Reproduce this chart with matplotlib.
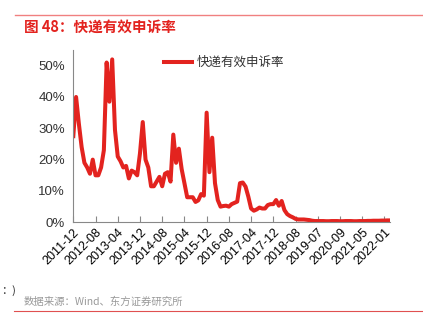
import numpy as np
import matplotlib.pyplot as plt

plt.rcParams['font.family'] = ['Noto Sans CJK SC', 'DejaVu Sans']

# monthly effective complaint rate (%), categorical months
rate = [27.5, 40, 31.5, 24, 19, 17.5, 15.5, 20, 15, 15,
        17.5, 23, 51, 38.5, 52, 29.5, 21, 19.5, 17.5, 18,
        14, 16.5, 16, 15, 22, 32, 20, 17.5, 11.5, 11.5,
        13, 14.5, 11.5, 15.5, 16, 13, 28, 19, 23.5, 17,
        12.5, 8, 8, 8, 6.5, 7, 9, 8.5, 35, 16,
        27, 12.5, 7.1, 5, 5.2, 5.3, 5, 5.8, 6.2, 6.6,
        12.5, 12.7, 11.4, 8.2, 4.4, 3.7, 4.1, 4.7, 4.4, 4.4,
        5.5, 5.8, 5.8, 7.1, 5.3, 6.8, 3.9, 2.6, 2.0, 1.6,
        1.1, 0.9, 0.9, 0.9, 0.8, 0.7, 0.5, 0.4, 0.4, 0.4,
        0.4, 0.35, 0.35, 0.4, 0.4, 0.4, 0.35, 0.35, 0.4, 0.4,
        0.4, 0.35, 0.35, 0.4, 0.4, 0.4, 0.45, 0.45, 0.5, 0.5,
        0.5, 0.55, 0.55, 0.6, 0.6]
tick_labels = ['2011-12', '2012-08', '2013-04', '2013-12', '2014-08',
               '2015-04', '2015-12', '2016-08', '2017-04', '2017-12',
               '2018-08', '2019-07', '2020-09', '2021-05', '2022-01']
yticks = [0, 10, 20, 30, 40, 50]

red = '#e3231f'
txt = '#333333'

fig = plt.figure(figsize=(4.23, 3.29), dpi=100)
ax = fig.add_axes([73.3/423, 1-222.3/329, (390-73.3)/423, (222.3-50)/329])

x = np.arange(len(rate))
ax.plot(x, rate, color=red, lw=2.9, solid_joinstyle='round', label='快递有效申诉率')

ax.set_xlim(0, 114)
ax.set_ylim(0, 55)
ax.set_xticks(np.arange(len(tick_labels))*8)
ax.set_xticklabels(tick_labels, rotation=45, ha='right', rotation_mode='anchor',
                   fontsize=9, color='black', family=['Liberation Sans', 'DejaVu Sans'])
ax.set_yticks(yticks)
ax.set_yticklabels(['%d%%' % v for v in yticks], fontsize=9.5, color=txt,
                   family=['Liberation Sans', 'DejaVu Sans'])
ax.tick_params(axis='x', length=4, width=0.8, color='#888888', direction='in', pad=3)
ax.tick_params(axis='y', length=0, pad=6)
for s in ['top', 'right']:
    ax.spines[s].set_visible(False)
for s in ['left', 'bottom']:
    ax.spines[s].set_color('#888888')
    ax.spines[s].set_linewidth(0.8)

ax.legend(loc='upper left', bbox_to_anchor=(0.25, 1.03), frameon=False,
          fontsize=9, handlelength=2.3, handletextpad=0.3, labelcolor=txt)

# header / footer
fig.add_artist(plt.Line2D([15/423, 1], [1-15/329]*2, color='#f08080', lw=1))
fig.add_artist(plt.Line2D([14/423, 1], [1-311/329]*2, color='#e05050', lw=0.8))
fig.text(24/423, 1-27/329, '图 48：快递有效申诉率', color='#e3231f', fontsize=10.5,
         fontweight='bold', va='center', ha='left')
fig.text(24/423, 1-302/329, '数据来源：Wind、东方证券研究所', color='#999999', fontsize=7.5,
         va='center', ha='left')
fig.text(1/423, 1-291/329, '：)', color=txt, fontsize=8, va='center', ha='left')

fig.savefig('out.png', dpi=100)
